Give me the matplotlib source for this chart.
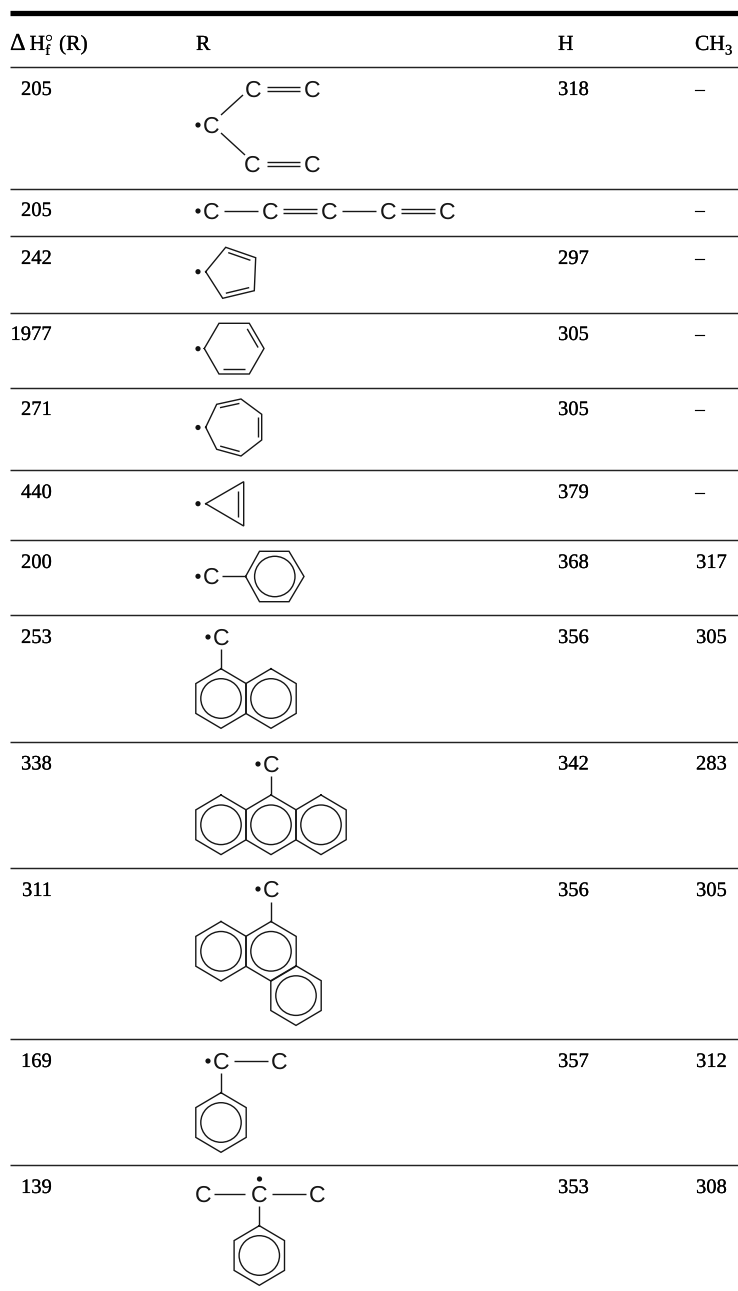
import numpy as np
import matplotlib
matplotlib.use("Agg")
import matplotlib.pyplot as plt
import matplotlib.patheffects as pe
from matplotlib.patches import Circle, Ellipse

plt.rcParams["text.hinting"] = "no_hinting"
plt.rcParams["text.hinting_factor"] = 1
plt.rcParams["mathtext.fontset"] = "custom"
plt.rcParams["mathtext.rm"] = "Liberation Serif"
plt.rcParams["mathtext.it"] = "Liberation Serif"
plt.rcParams["mathtext.bf"] = "Liberation Serif"

W, H = 738, 1291
SERIF = "Liberation Serif"
SANS = "Liberation Sans"

dHf = ["205", "205", "242", "1977", "271", "440", "200", "253", "338", "311", "169", "139"]
bde_H = ["318", "", "297", "305", "305", "379", "368", "356", "342", "356", "357", "353"]
bde_CH3 = ["–", "–", "–", "–", "–", "–", "317", "305", "283", "305", "312", "308"]
rule_y = [67, 188.5, 236, 312.5, 387.7, 470, 540, 615, 742, 868, 1038.7, 1165]
text_y = [88, 209, 257, 333, 408, 491, 561, 636, 762.5, 889, 1060, 1186]

fig = plt.figure(figsize=(W / 100, H / 100), dpi=100)
ax = fig.add_axes([0, 0, 1, 1])
ax.set_xlim(0, W)
ax.set_ylim(H, 0)
ax.axis("off")

LW = 1.0
INK = "#161616"
HEAVY = [pe.withStroke(linewidth=0.12, foreground="black")]

def line(x0, y0, x1, y1, lw=LW):
    ax.plot([x0, x1], [y0, y1], color=INK, lw=lw, solid_capstyle="butt", solid_joinstyle="miter")

def txt(x, y, s, size=14.8, ha="left", family=SERIF):
    ax.text(x, y, s, family=family, fontsize=size, color="black", ha=ha, va="baseline", path_effects=HEAVY)

def C(x, y):
    ax.text(x, y + 8, "C", family=SANS, fontsize=16.8, color=INK, ha="center", va="baseline")

def dot(x, y):
    ax.add_patch(Circle((x, y), 2.6, fc="#111111", ec="none"))

def double_h(x0, x1, y):
    line(x0, y - 2.2, x1, y - 2.2)
    line(x0, y + 2.2, x1, y + 2.2)

def poly(pts, doubles=(), off=4.6, shrink=0.13):
    pts = np.array(pts, float)
    closed = np.vstack([pts, pts[:1]])
    ax.plot(closed[:, 0], closed[:, 1], color=INK, lw=LW, solid_joinstyle="miter")
    c = pts.mean(axis=0)
    for i in doubles:
        a, b = pts[i], pts[(i + 1) % len(pts)]
        mid = (a + b) / 2
        d = b - a
        n = np.array([-d[1], d[0]]) / np.hypot(*d)
        if np.dot(c - mid, n) < 0:
            n = -n
        a2 = a + d * shrink + n * off
        b2 = b - d * shrink + n * off
        line(a2[0], a2[1], b2[0], b2[1])

def hex_pointy(cx, cy, r=29.8, hw=25.2):
    poly([(cx, cy - r), (cx + hw, cy - r / 2), (cx + hw, cy + r / 2),
          (cx, cy + r), (cx - hw, cy + r / 2), (cx - hw, cy - r / 2)])
    ax.add_patch(Ellipse((cx, cy), 40.4, 39.6, fc="none", ec=INK, lw=LW))

# top rule and row rules
ax.plot([10, W], [12.7, 12.7], color="black", lw=3.8, solid_capstyle="butt")
for y in rule_y:
    ax.plot([10, W], [y, y], color="#222222", lw=1.05, solid_capstyle="butt")

# header
txt(10, 50, "Δ", size=17.5)
txt(29.5, 50, r"H$^{\circ}_{\mathrm{f}}$", size=15.5)
txt(59, 50, "(R)", size=15.5)
txt(196, 50, "R", size=15.5)
txt(558, 50, "H", size=15.5)
txt(695, 50, "CH", size=15.5)
txt(725, 54.5, "3", size=10.5)

# numeric columns
for s, h, m, y in zip(dHf, bde_H, bde_CH3, text_y):
    txt(52.5, y + 7, s, ha="right")
    if h:
        txt(558, y + 7, h)
    if m == "–":
        txt(700, y + 7, m, ha="center")
    else:
        txt(696, y + 7, m)

# row 1
C(253, 89); C(312, 89); double_h(267, 300, 89)
dot(198, 125); C(211, 125)
line(221, 115, 243, 95); line(221, 133, 245, 155)
C(252, 164); C(312, 164); double_h(267, 300, 164)
# row 2
dot(198, 211)
for x in (211, 270, 329, 388, 447):
    C(x, 211)
line(224, 211, 258, 211); double_h(283, 317, 211)
line(342, 211, 376, 211); double_h(401, 435, 211)
# row 3
dot(198, 271.7)
poly([(205.7, 271.7), (225.7, 247.3), (255.7, 257.7), (254.3, 290.7), (222.7, 298.3)], doubles=(1, 3), off=4.2)
# row 4
dot(198, 348.7)
poly([(204.3, 348.5), (219, 323.3), (249.3, 323.3), (264, 348.5), (249.3, 374), (219, 374)], doubles=(2, 4))
# row 5
dot(198, 427.5)
poly([(205.7, 427.3), (216.7, 404.3), (241, 399), (261.7, 414.3), (261.7, 440), (241, 456), (216.7, 449.3)],
     doubles=(1, 3, 5), off=4.0, shrink=0.1)
# row 6
dot(198, 503.7)
poly([(205.7, 503.7), (243.7, 481.7), (243.7, 526)], doubles=(1,), off=5.4, shrink=0.2)
# row 7
dot(198, 576.3); C(211, 576); line(222, 576.3, 245.5, 576.3)
cx, cy = 274.8, 576.5
poly([(245.6, cy), (259.5, cy - 25.2), (289, cy - 25.2), (304, cy), (289, cy + 25.2), (259.5, cy + 25.2)])
ax.add_patch(Circle((cx, cy), 20.2, fc="none", ec=INK, lw=LW))
# row 8
dot(208, 637); C(221, 637); line(221, 649, 221, 668.7)
hex_pointy(221, 698.5); hex_pointy(271, 698.5)
# row 9
dot(258, 764); C(271, 764); line(271, 776, 271, 795.3)
hex_pointy(221, 824.8); hex_pointy(271, 824.8); hex_pointy(321, 824.8)
# row 10
dot(258, 889); C(271, 889); line(271, 902, 271, 921.7)
hex_pointy(221, 951.3); hex_pointy(271, 951.3); hex_pointy(296, 995.6)
# row 11
dot(208, 1061); C(221, 1061); line(234, 1061, 268, 1061); C(279, 1061)
line(221, 1073, 221, 1092.7); hex_pointy(221, 1122.5)
# row 12
C(203, 1194); line(214, 1194, 245, 1194); C(259, 1194); dot(259.5, 1179)
line(272, 1194, 306, 1194); C(317, 1194)
line(259.3, 1206, 259.3, 1226); hex_pointy(259.3, 1255.5)

fig.savefig("out.png", dpi=100, facecolor="white")
